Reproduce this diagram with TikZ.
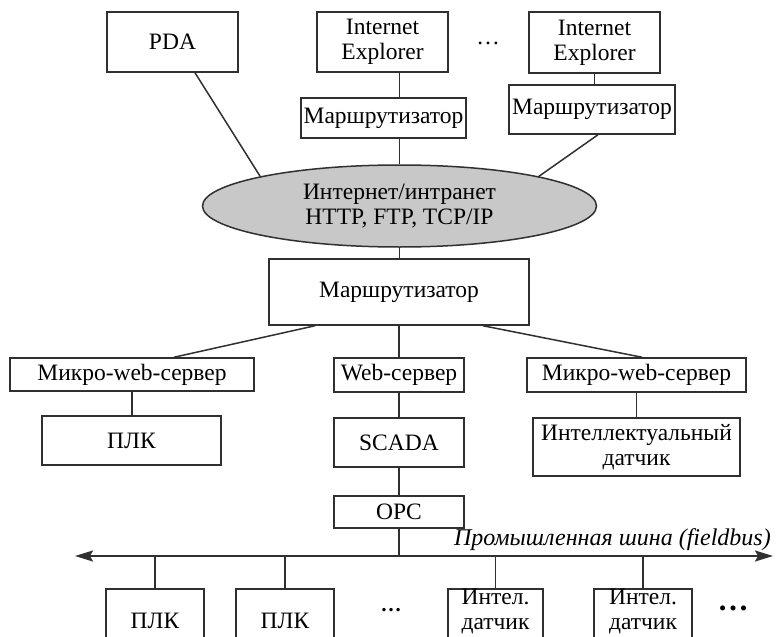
\documentclass[tikz,border=0pt]{standalone}
\usepackage{fontspec}
\setmainfont{Liberation Serif}
\usetikzlibrary{shapes.geometric,arrows.meta}
\definecolor{linec}{HTML}{303030}
\definecolor{cloud}{HTML}{C8C8C8}
\tikzset{busend/.tip={Stealth[length=18pt,width=11pt,inset=3pt]}}
\begin{document}
\begin{tikzpicture}[x=1pt,y=-1pt,
  every node/.style={font=\fontsize{23.5}{25}\selectfont, text=black},
  box/.style={draw=linec, line width=1.5pt, inner sep=0pt, align=center, fill=white},
  link/.style={draw=linec, line width=1.5pt},
  bus/.style={draw=linec, line width=2pt},
  dots/.style={anchor=base, inner sep=0pt}
]
\useasboundingbox (0,0) rectangle (777,637);
\clip (0,0) rectangle (777,637);

% Internet clients
\node[box, minimum width=131, minimum height=60] (pda) at (172.5,42) {PDA};
\node[box, minimum width=131, minimum height=60] (ie1) at (382.5,42) {Internet\\Explorer};
\node[box, minimum width=165, minimum height=40] (r1) at (383.5,118) {Маршрутизатор};
\node[box, minimum width=131, minimum height=61] (ie2) at (594.5,42.5) {Internet\\Explorer};
\node[box, minimum width=166, minimum height=49] (r2) at (592,109.5) {Маршрутизатор};
\node[dots] (topdots) at (488,45) {…};

% Network cloud
\node[ellipse, draw=linec, line width=1.5pt, fill=cloud, minimum width=394, minimum height=82,
      inner sep=0pt, align=center] (net) at (399.5,206) {Интернет/интранет\\HTTP, FTP, TCP/IP};

% Plant-side router and servers
\node[box, minimum width=260, minimum height=66] (r3) at (399,292) {Маршрутизатор};
\node[box, minimum width=244, minimum height=33] (m1) at (132,374.5) {Микро-web-сервер};
\node[box, minimum width=130, minimum height=34] (ws) at (399,375) {Web-сервер};
\node[box, minimum width=219, minimum height=34] (m2) at (636.5,375) {Микро-web-сервер};
\node[box, minimum width=179, minimum height=49] (plc) at (131.5,440.5) {ПЛК};
\node[box, minimum width=130, minimum height=49] (scada) at (399,442.5) {SCADA};
\node[box, minimum width=207, minimum height=58] (smart) at (636.5,447) {Интеллектуальный\\датчик};
\node[box, minimum width=130, minimum height=32] (opc) at (399,512) {OPC};

% Fieldbus
\coordinate (busL) at (75,556);
\coordinate (busR) at (773,556);
\draw[bus, busend-busend] (busL) -- (busR);
\node[anchor=base east, inner sep=0pt, font=\fontsize{24}{26}\selectfont\itshape] (buslabel)
      at (771,545) {Промышленная шина (fieldbus)};

% Field devices (boxes run off the lower edge)
\node[box, anchor=north, minimum width=98, minimum height=80] (p1) at (155,588) {};
\node[box, anchor=north, minimum width=98, minimum height=80] (p2) at (285,588) {};
\node[box, anchor=north, minimum width=95, minimum height=80] (s1) at (495.5,588) {};
\node[box, anchor=north, minimum width=98, minimum height=80] (s2) at (643,588) {};
\node (p1t) at (155,621) {ПЛК};
\node (p2t) at (285,621) {ПЛК};
\node[align=center, inner sep=0pt] (s1t) at (495.5,612) {Интел.\\датчик};
\node[align=center, inner sep=0pt] (s2t) at (643,612) {Интел.\\датчик};
\node[dots, font=\fontsize{21}{21}\selectfont\bfseries] (middots) at (391,611) {…};
\node[dots, font=\fontsize{31}{31}\selectfont\bfseries] (enddots) at (733,610) {…};

% Links
\draw[link] ([xshift=22.5pt]pda.south) -- (net.168);
\draw[link] (ie1.south -| net.north) -- (r1.north -| net.north);
\draw[link] (r1.south -| net.north) -- (net.north);
\draw[link] (ie2.south) -- (ie2.south |- r2.north);
\draw[link] ([xshift=6pt]r2.south) -- (net.12);
\draw[link] (net.south) -- (net.south |- r3.north);
\draw[link] ([xshift=-84pt]r3.south) -- ([xshift=42pt]m1.north);
\draw[link] (r3.south -| ws.north) -- (ws.north);
\draw[link] ([xshift=84pt]r3.south) -- ([xshift=5.5pt]m2.north);
\draw[link] (m1.south) -- (m1.south |- plc.north);
\draw[link] (ws.south) -- (scada.north);
\draw[link] (scada.south) -- (opc.north);
\draw[link] (m2.south) -- (m2.south |- smart.north);
\draw[link] (opc.south) -- (opc.south |- busL);
\draw[link] (p1.north |- busL) -- (p1.north);
\draw[link] (p2.north |- busL) -- (p2.north);
\draw[link] (s1.north |- busL) -- (s1.north);
\draw[link] (s2.north |- busL) -- (s2.north);
\end{tikzpicture}
\end{document}
